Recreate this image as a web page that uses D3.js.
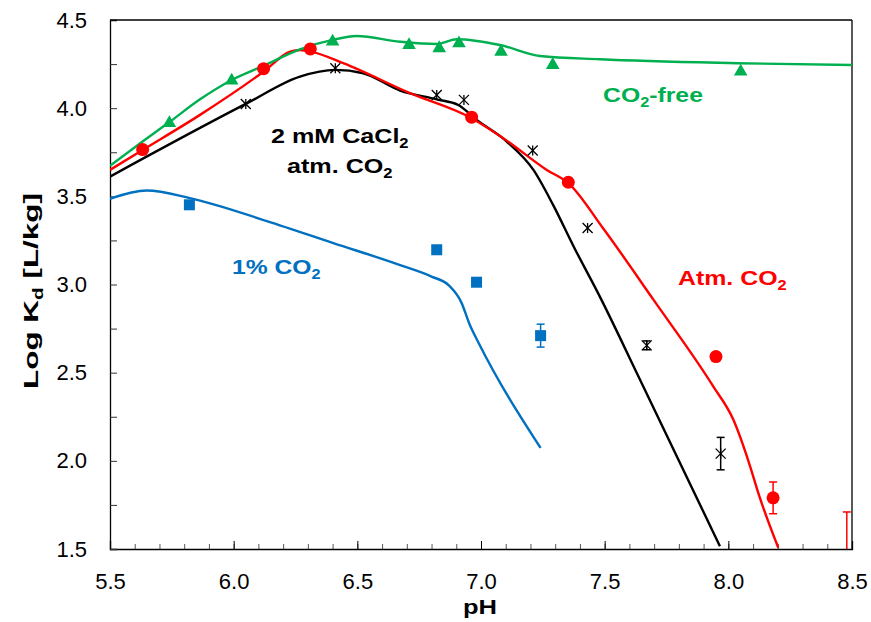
<!DOCTYPE html>
<html><head><meta charset="utf-8">
<script src="https://cdn.jsdelivr.net/npm/d3@7"></script>
<style>body{margin:0;background:#fff}</style>
</head><body><svg id="c" width="871" height="622"></svg>
<script>
// ---- data ----
const xMajorTicks = [5.5, 6.0, 6.5, 7.0, 7.5, 8.0, 8.5];
const yMajorTicks = [1.5, 2.0, 2.5, 3.0, 3.5, 4.0, 4.5];

// CO2-free (green)
const freePH = [5.740, 5.992, 6.400, 6.709, 6.831, 6.911, 7.081, 7.290, 8.050];
const freeKd = [3.915, 4.156, 4.377, 4.358, 4.340, 4.368, 4.320, 4.245, 4.207];
const freeCurvePH = [5.5, 5.621, 5.743, 5.864, 5.992, 6.120, 6.268, 6.400, 6.497, 6.673, 6.821, 6.902, 7.077, 7.239, 7.481, 8.034, 8.5];
const freeCurveKd = [3.673, 3.800, 3.924, 4.050, 4.160, 4.240, 4.334, 4.387, 4.409, 4.377, 4.364, 4.391, 4.358, 4.296, 4.277, 4.255, 4.245];

// Atm. CO2 (red)
const atmPH = [5.632, 6.121, 6.310, 6.962, 7.353, 7.950, 8.181, 8.479];
const atmKd = [3.765, 4.224, 4.336, 3.949, 3.580, 2.591, 1.790, 1.400];
const atmErr = [0, 0, 0, 0, 0, 0, 0.09, 0.31];
const atmCurvePH = [5.5, 5.632, 5.864, 6.119, 6.228, 6.268, 6.317, 6.443, 6.713, 6.962, 7.090, 7.266, 7.353, 7.495, 7.697, 7.939, 8.020, 8.088, 8.121, 8.202];
const atmCurveKd = [3.650, 3.763, 3.962, 4.205, 4.320, 4.330, 4.319, 4.255, 4.085, 3.943, 3.830, 3.650, 3.575, 3.316, 2.914, 2.422, 2.234, 1.969, 1.818, 1.507];

// 2 mM CaCl2 atm. CO2 (black)
const caPH = [6.049, 6.411, 6.821, 6.931, 7.209, 7.431, 7.670, 7.969];
const caKd = [4.024, 4.226, 4.075, 4.047, 3.760, 3.320, 2.655, 2.041];
const caErr = [0, 0, 0, 0, 0, 0, 0.025, 0.092];
const caCurvePH = [5.5, 6.049, 6.268, 6.411, 6.524, 6.673, 6.821, 6.908, 6.983, 7.104, 7.212, 7.292, 7.373, 7.481, 7.643, 7.966];
const caCurveKd = [3.612, 4.024, 4.179, 4.217, 4.198, 4.100, 4.050, 4.018, 3.933, 3.811, 3.650, 3.450, 3.220, 2.930, 2.460, 1.516];

// 1% CO2 (blue)
const oneCO2PH = [5.821, 6.821, 6.982, 7.241];
const oneCO2Kd = [3.452, 3.197, 3.013, 2.710];
const oneCO2Err = [0, 0, 0.02, 0.065];
const oneCO2CurvePH = [5.5, 5.648, 5.823, 6.134, 6.403, 6.673, 6.800, 6.870, 6.920, 6.955, 6.990, 7.241];
const oneCO2CurveKd = [3.486, 3.533, 3.490, 3.360, 3.235, 3.110, 3.045, 2.995, 2.900, 2.770, 2.670, 2.073];

const GREEN = "#00B050", RED = "#FF0000", BLUE = "#0070C0", BLACK = "#000000";
const FONT = "'Liberation Sans', Arial, sans-serif";

// ---- layout ----
const W = 871, H = 622;
const m = {left: 110, right: 19, top: 20, bottom: 73};
const pw = W - m.left - m.right, ph = H - m.top - m.bottom;
const svg = d3.select("#c");
const g = svg.append("g").attr("transform", `translate(${m.left},${m.top})`);
const x = d3.scaleLinear().domain([5.5, 8.5]).range([0, pw]);
const y = d3.scaleLinear().domain([1.5, 4.5]).range([ph, 0]);

svg.append("defs").append("clipPath").attr("id", "clip")
  .append("rect").attr("width", pw).attr("height", ph);

// axes
const xMinor = d3.range(55, 86).map(v => v / 10);
g.append("g").attr("transform", `translate(0,${ph})`)
  .call(d3.axisBottom(x).tickValues(xMinor).tickSize(-5).tickFormat(""))
  .call(a => a.select(".domain").remove())
  .selectAll("line").attr("stroke", "#555").attr("stroke-width", 1);
const xa = g.append("g").attr("transform", `translate(0,${ph})`)
  .call(d3.axisBottom(x).tickValues(xMajorTicks).tickSize(-8).tickPadding(24).tickFormat(d3.format(".1f")));
xa.selectAll("text").attr("font-family", FONT).attr("font-size", 22).attr("fill", "#000");
xa.selectAll("line").attr("stroke", "#000");
xa.select(".domain").attr("stroke", "#000").attr("stroke-width", 1.3);

const yTickVals = d3.range(6, 19).map(v => v / 4);
const ya = g.append("g")
  .call(d3.axisLeft(y).tickValues(yTickVals).tickSize(-7).tickPadding(23)
    .tickFormat(d => yMajorTicks.includes(d) ? d3.format(".1f")(d) : ""));
ya.selectAll("text").attr("font-family", FONT).attr("font-size", 22).attr("fill", "#000");
ya.selectAll("line").attr("stroke", "#333");
ya.select(".domain").attr("stroke", "#000").attr("stroke-width", 1.3);

// frame top/right
g.append("line").attr("x1", 0).attr("x2", pw).attr("y1", 0).attr("y2", 0).attr("stroke", "#000").attr("stroke-width", 1.3);
g.append("line").attr("x1", pw).attr("x2", pw).attr("y1", 0).attr("y2", ph).attr("stroke", "#000").attr("stroke-width", 1.3);

// stretched bold text helper: (tx,ty) = start (or centre when anchor middle), width = target width
function stretched(tx, ty, color, parts, width, opts = {}) {
  const grp = svg.append("g");
  const t = grp.append("text").attr("font-family", FONT)
    .attr("font-size", opts.size || 21).attr("font-weight", "bold").attr("fill", color)
    .attr("text-anchor", opts.anchor || "start");
  parts.forEach(p => {
    if (p.sub) t.append("tspan").attr("font-size", (opts.size || 21) * 0.66).attr("dy", 5).text(p.t);
    else t.append("tspan").attr("dy", p.after ? -5 : 0).text(p.t);
  });
  const w = t.node().getBBox().width;
  const s = width / w;
  grp.attr("transform", `translate(${tx},${ty})${opts.rotate ? ` rotate(${opts.rotate})` : ""} scale(${s},1)`);
}

// axis titles
stretched(480, 614, BLACK, [{t: "pH"}], 34, {anchor: "middle"});
stretched(38, 291, BLACK, [{t: "Log K"}, {t: "d", sub: true}, {t: " [L/kg]", after: true}], 196, {anchor: "middle", rotate: -90});

// curves
const plot = g.append("g").attr("clip-path", "url(#clip)");
const line = d3.line().x(d => x(d[0])).y(d => y(d[1])).curve(d3.curveMonotoneX);
function curve(px, py, color) {
  plot.append("path").datum(d3.zip(px, py)).attr("d", line)
    .attr("fill", "none").attr("stroke", color).attr("stroke-width", 2.4);
}
curve(oneCO2CurvePH, oneCO2CurveKd, BLUE);
curve(caCurvePH, caCurveKd, BLACK);
curve(atmCurvePH, atmCurveKd, RED);
curve(freeCurvePH, freeCurveKd, GREEN);

// error bars
function errs(px, py, pe, color) {
  d3.zip(px, py, pe).filter(d => d[2] > 0).forEach(d => {
    const cx = x(d[0]), y0 = y(d[1] - d[2]), y1 = y(d[1] + d[2]);
    const eg = plot.append("g").attr("stroke", color).attr("stroke-width", 1.5);
    eg.append("line").attr("x1", cx).attr("x2", cx).attr("y1", y0).attr("y2", y1);
    eg.append("line").attr("x1", cx - 4).attr("x2", cx + 4).attr("y1", y0).attr("y2", y0);
    eg.append("line").attr("x1", cx - 4).attr("x2", cx + 4).attr("y1", y1).attr("y2", y1);
  });
}
errs(oneCO2PH, oneCO2Kd, oneCO2Err, BLUE);
errs(caPH, caKd, caErr, BLACK);
errs(atmPH, atmKd, atmErr, RED);

// markers
plot.selectAll(".sq").data(d3.zip(oneCO2PH, oneCO2Kd)).join("rect")
  .attr("x", d => x(d[0]) - 5.5).attr("y", d => y(d[1]) - 5.5).attr("width", 11).attr("height", 11).attr("fill", BLUE);
plot.selectAll(".ci").data(d3.zip(atmPH, atmKd)).join("circle")
  .attr("cx", d => x(d[0])).attr("cy", d => y(d[1])).attr("r", 6.5).attr("fill", RED);
const tri = d3.symbol().type(d3.symbolTriangle).size(80);
plot.selectAll(".tr").data(d3.zip(freePH, freeKd)).join("path")
  .attr("transform", d => `translate(${x(d[0])},${y(d[1])})`).attr("d", tri).attr("fill", GREEN);
const st = plot.selectAll(".st").data(d3.zip(caPH, caKd)).join("g")
  .attr("transform", d => `translate(${x(d[0])},${y(d[1])})`).attr("stroke", BLACK).attr("stroke-width", 1.3);
st.append("line").attr("x1", -5).attr("x2", 5).attr("y1", -5).attr("y2", 5);
st.append("line").attr("x1", -5).attr("x2", 5).attr("y1", 5).attr("y2", -5);
st.append("line").attr("x1", 0).attr("x2", 0).attr("y1", -5).attr("y2", 5);

// annotations
stretched(603, 102, GREEN, [{t: "CO"}, {t: "2", sub: true}, {t: "-free", after: true}], 100);
stretched(271, 143, BLACK, [{t: "2 mM CaCl"}, {t: "2", sub: true}], 138);
stretched(287, 173, BLACK, [{t: "atm. CO"}, {t: "2", sub: true}], 106);
stretched(232, 274, BLUE, [{t: "1% CO"}, {t: "2", sub: true}], 89);
stretched(678, 285, RED, [{t: "Atm. CO"}, {t: "2", sub: true}], 109);
</script></body></html>
